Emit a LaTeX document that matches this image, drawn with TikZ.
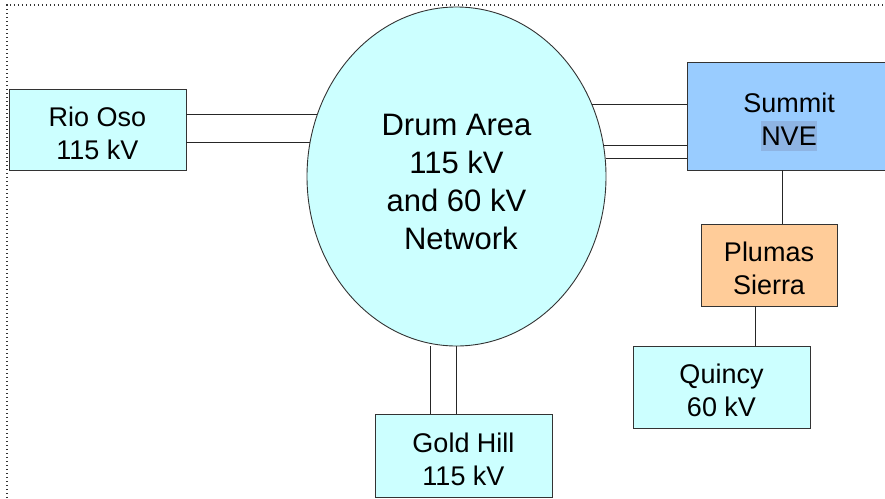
\documentclass[tikz,border=0pt]{standalone}
\usepackage{fontspec}
\setmainfont{Liberation Sans}
\usetikzlibrary{shapes.geometric}
\definecolor{paleaqua}{HTML}{CCFFFF}
\definecolor{skyfill}{HTML}{99CCFF}
\definecolor{peach}{HTML}{FFCC99}
\definecolor{nvemark}{HTML}{8EB4E3}
\definecolor{edgegray}{HTML}{333333}
% highlighted word, box spans the font's ascent and descent
\newcommand{\markedtext}[1]{{\setlength{\fboxsep}{0pt}\colorbox{nvemark}{\rule[-0.212em]{0pt}{1.117em}#1}}}
% invisible strut that sets the height of a first line
\newcommand{\topstrut}[1]{\rule{0pt}{#1}}
\begin{document}
\begin{tikzpicture}[x=1pt,y=-1pt,
  station/.style={draw=edgegray, line width=0.9pt, rectangle, inner sep=0pt,
    align=center, font=\fontsize{27}{33}\selectfont},
  network/.style={draw=edgegray, line width=0.9pt, ellipse, inner sep=0pt,
    fill=paleaqua, align=center, font=\fontsize{31}{38}\selectfont,
    minimum width=299, minimum height=339},
  link/.style={draw=black!85, line width=0.9pt},
  frame/.style={draw=black!80, line width=1.3pt, dash pattern=on 1.3pt off 2.7pt}
]
\useasboundingbox (0,0) rectangle (885,498);

% dotted page frame
\draw[frame] (7,498) -- (7,5) -- (885,5);

% central network
\node[network] (drum) at (456.5,176.5)
  {\topstrut{1.07em}Drum Area\\115 kV\hspace*{0.28em}\\and 60 kV\\\hspace*{0.28em}Network};

% stations
\node[station, fill=paleaqua, minimum width=177, minimum height=81]
  (rio) at (97.5,129.5) {\topstrut{1em}Rio Oso\\115 kV};
\node[station, fill=skyfill, minimum width=204, minimum height=108]
  (summit) at (789,116) {\topstrut{1.14em}Summit\\\markedtext{NVE}};
\node[station, fill=peach, minimum width=136, minimum height=82]
  (plumas) at (769,265) {\topstrut{1em}Plumas\\Sierra};
\node[station, fill=paleaqua, minimum width=177, minimum height=82]
  (quincy) at (721.5,387) {\topstrut{1em}Quincy\\60 kV};
\node[station, fill=paleaqua, minimum width=177, minimum height=83]
  (gold) at (463.5,455.5) {\topstrut{1em}Gold Hill\\115 kV};

% Rio Oso ties
\draw[link] (drum.156.6) -- (drum.156.6 -| rio.east);
\draw[link] (drum.167.1) -- (drum.167.1 -| rio.east);

% Summit ties
\draw[link] (drum.28.5) -- (drum.28.5 -| summit.west);
\draw[link] (drum.12.9) -- (drum.12.9 -| summit.west);
\draw[link] (drum.7.5) -- (drum.7.5 -| summit.west);

% Gold Hill ties
\draw[link] ([xshift=-26.5]drum.south) -- ([xshift=-26.5]drum.south |- gold.north);
\draw[link] (drum.south) -- (drum.south |- gold.north);

% radial chain
\draw[link] ([xshift=-7]summit.south) -- ([xshift=-7]summit.south |- plumas.north);
\draw[link] ([xshift=-14]plumas.south) -- ([xshift=-14]plumas.south |- quincy.north);
\end{tikzpicture}
\end{document}
